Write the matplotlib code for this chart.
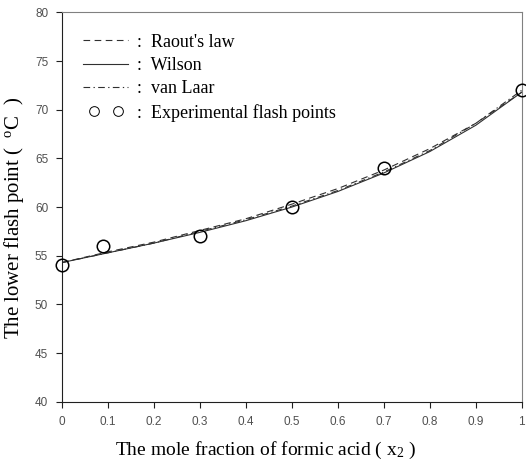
import numpy as np
import matplotlib.pyplot as plt
from matplotlib.legend_handler import HandlerLine2D

# mole fraction of formic acid
x_calc = [0.0, 0.1, 0.2, 0.3, 0.4, 0.5, 0.6, 0.7, 0.8, 0.9, 1.0]
raoult = [54.3, 55.4, 56.4, 57.6, 58.8, 60.3, 61.9, 63.8, 66.0, 68.6, 71.8]
wilson = [54.3, 55.3, 56.3, 57.4, 58.6, 60.0, 61.6, 63.5, 65.7, 68.4, 71.8]
van_laar = [54.3, 55.3, 56.3, 57.5, 58.7, 60.1, 61.7, 63.6, 65.8, 68.6, 72.0]

x_exp = [0.0, 0.09, 0.3, 0.5, 0.7, 1.0]
t_exp = [54, 56, 57, 60, 64, 72]

xticks = [0, 0.1, 0.2, 0.3, 0.4, 0.5, 0.6, 0.7, 0.8, 0.9, 1]
xticklabels = ["0", "0.1", "0.2", "0.3", "0.4", "0.5", "0.6", "0.7", "0.8", "0.9", "1"]
yticks = [40, 45, 50, 55, 60, 65, 70, 75, 80]

serif = ["Liberation Serif", "DejaVu Serif"]
sans = ["Liberation Sans", "DejaVu Sans"]

fig = plt.figure(figsize=(5.26, 4.65), dpi=100)
ax = fig.add_axes([0.118, 0.136, 0.874, 0.8375])

line_kw = dict(color="#303030", lw=0.8)
ax.plot(x_calc, raoult, dashes=(6, 4), label=":  Raout's law", **line_kw)
ax.plot(x_calc, wilson, linestyle="-", label=":  Wilson", **line_kw)
ax.plot(x_calc, van_laar, dashes=(6, 3, 1.2, 3), label=":  van Laar", **line_kw)
exp_line, = ax.plot(x_exp, t_exp, linestyle="none", marker="o", markersize=9,
                    markerfacecolor="none", markeredgecolor="black", markeredgewidth=1.1,
                    label=":  Experimental flash points", clip_on=False, zorder=5)

ax.set_xlim(0, 1)
ax.set_ylim(40, 80)
ax.set_xticks(xticks)
ax.set_xticklabels(xticklabels)
ax.set_yticks(yticks)
ax.tick_params(direction="out", length=4, width=0.8, color="#202020",
               labelsize=8.5, labelcolor="#505050", pad=6)
for lab in ax.get_xticklabels() + ax.get_yticklabels():
    lab.set_family(sans)

for side in ["top", "right"]:
    ax.spines[side].set_color("#808080")
for side in ["left", "bottom"]:
    ax.spines[side].set_color("#202020")
for sp in ax.spines.values():
    sp.set_linewidth(0.8)

ax.set_xlabel("The mole fraction of formic acid ( x$\\mathregular{_2}$ )",
              family=serif, fontsize=14, labelpad=12)
ax.xaxis.set_label_coords(0.443, -0.097)
ax.set_ylabel("The lower flash point (  $\\mathregular{^o}$C  )",
              family=serif, fontsize=15)
ax.yaxis.set_label_coords(-0.078, 0.472)

leg = ax.legend(loc="upper left", bbox_to_anchor=(0.046, 0.945), frameon=False,
                borderpad=0, borderaxespad=0,
                handlelength=2.5, handletextpad=0.5, labelspacing=0.35,
                handler_map={exp_line: HandlerLine2D(numpoints=2, marker_pad=0.6)},
                prop={"family": serif, "size": 13})
for h in leg.legend_handles[3:]:
    h.set_markersize(7)
    h.set_markeredgewidth(0.7)

fig.savefig("out.png", dpi=100)
